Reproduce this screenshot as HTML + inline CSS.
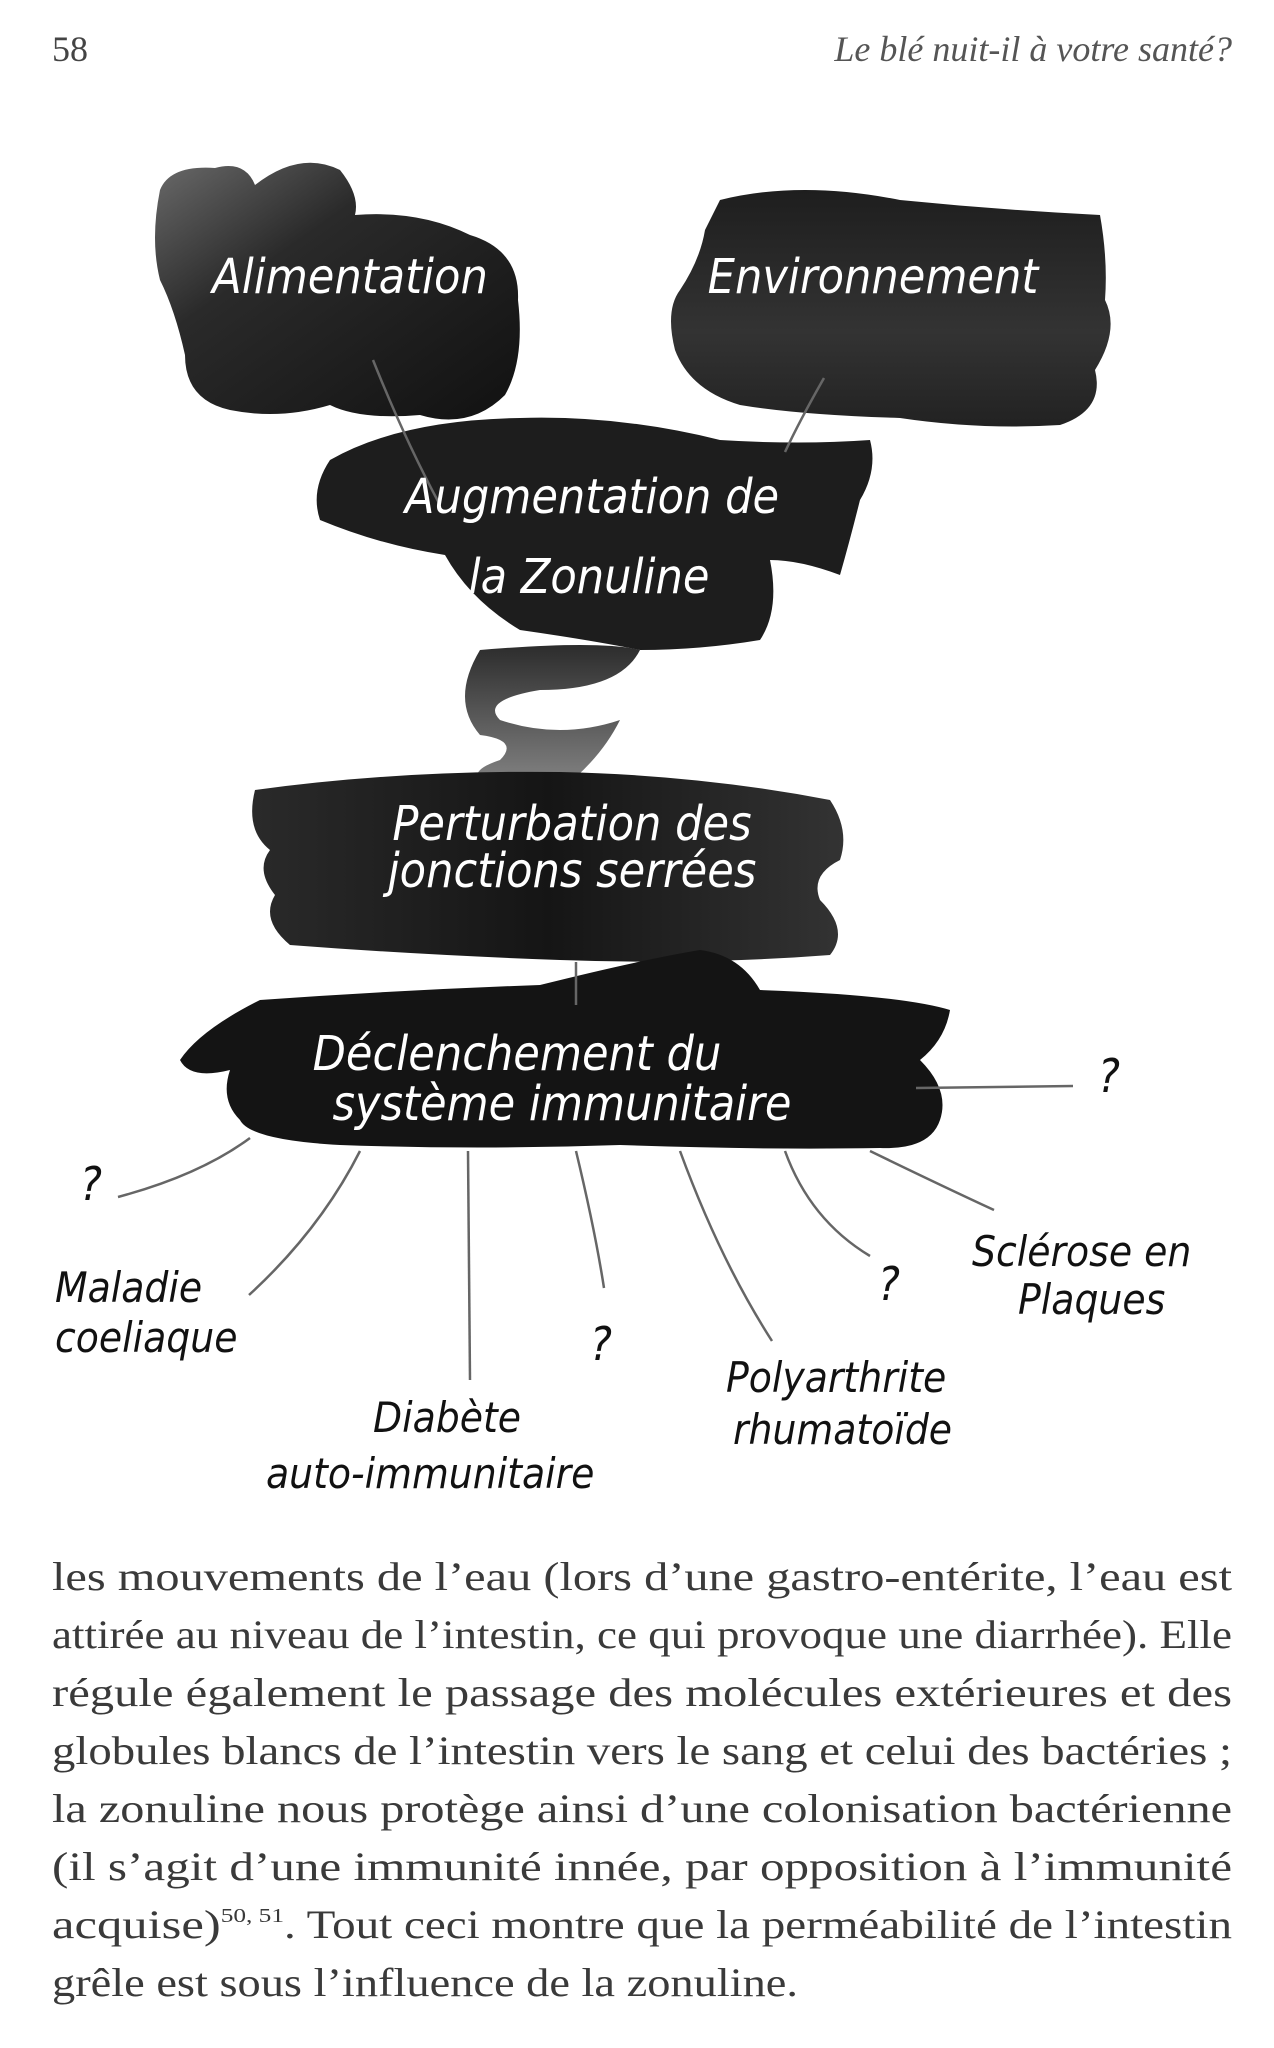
<!DOCTYPE html>
<html><head><meta charset="utf-8"><style>
html,body{margin:0;padding:0;background:#fff;}
body{width:1274px;height:2048px;position:relative;overflow:hidden;}
.hdr{position:absolute;top:28px;font-family:"Liberation Serif",serif;font-size:36px;color:#444;}
.hand{font-family:"DejaVu Sans Condensed","DejaVu Sans",sans-serif;font-weight:normal;}
svg{position:absolute;left:0;top:0;}
</style></head><body>
<div class="hdr" style="left:52px;">58</div>
<div class="hdr" style="right:42px;font-style:italic;color:#555;">Le blé nuit-il à votre santé?</div>

<svg width="1274" height="1540" viewBox="0 0 1274 1540">
<defs>
<linearGradient id="g1" x1="0" y1="0" x2="1" y2="1"><stop offset="0" stop-color="#6a6a6a"/><stop offset="0.35" stop-color="#2a2a2a"/><stop offset="1" stop-color="#111"/></linearGradient>
<linearGradient id="g2" x1="0" y1="0" x2="0" y2="1"><stop offset="0" stop-color="#1e1e1e"/><stop offset="0.6" stop-color="#333"/><stop offset="1" stop-color="#222"/></linearGradient>
<linearGradient id="g3" x1="0" y1="0" x2="1" y2="0"><stop offset="0" stop-color="#2a2a2a"/><stop offset="0.5" stop-color="#151515"/><stop offset="1" stop-color="#333"/></linearGradient>
<linearGradient id="g4" x1="0" y1="0" x2="0" y2="1"><stop offset="0" stop-color="#2c2c2c"/><stop offset="1" stop-color="#888"/></linearGradient>
</defs>
<path d="M160 190 Q170 165 215 168 Q245 160 255 185 Q300 150 340 170 Q360 195 355 215 Q420 210 470 235 Q520 250 518 300 Q525 360 505 395 Q470 430 420 415 Q360 420 330 405 Q280 420 230 410 Q185 400 185 355 Q175 310 160 280 Q150 240 160 190Z" fill="url(#g1)"/>
<path d="M720 200 Q800 180 900 200 Q1000 210 1100 215 Q1108 260 1105 300 Q1120 330 1095 370 Q1105 410 1060 425 Q980 430 900 418 Q800 415 740 405 Q690 390 675 350 Q665 310 680 290 Q700 260 705 230Z" fill="url(#g2)"/>
<path d="M330 460 Q400 420 520 418 Q620 415 720 440 Q800 445 870 440 Q878 470 860 500 Q850 540 840 575 Q800 560 770 560 Q780 610 760 640 Q700 650 640 650 Q590 640 520 630 Q470 600 445 555 Q380 545 320 520 Q310 490 330 460Z" fill="#1d1d1d"/>
<path d="M480 650 Q600 640 640 650 Q620 690 540 690 Q480 700 500 720 Q560 740 620 720 Q600 760 560 790 Q520 800 480 780 Q470 770 500 760 Q520 740 480 735 Q450 700 480 650Z" fill="url(#g4)"/>
<path d="M255 790 Q400 770 560 772 Q700 775 830 800 Q850 830 840 860 Q810 875 820 900 Q850 930 830 955 Q700 965 560 960 Q420 955 290 945 Q260 920 275 895 Q255 870 270 850 Q245 830 255 790Z" fill="url(#g3)"/>
<path d="M260 1000 Q400 990 540 985 Q640 960 700 950 Q740 955 760 990 Q900 995 950 1010 Q945 1040 920 1060 Q950 1090 940 1120 Q930 1150 880 1148 Q760 1150 620 1145 Q480 1150 340 1145 Q250 1140 240 1120 Q220 1100 230 1070 Q190 1080 180 1060 Q200 1030 260 1000Z" fill="#141414"/>
<g stroke="#666" stroke-width="2.5" fill="none">
<path d="M373 360 Q405 440 440 505"/>
<path d="M824 378 Q800 420 785 452"/>
<path d="M576 962 L576 1005"/>
<path d="M916 1088 L1073 1086"/>
<path d="M118 1197 Q200 1175 250 1138"/>
<path d="M249 1295 Q320 1230 360 1151"/>
<path d="M468 1151 L470 1380"/>
<path d="M576 1151 Q595 1230 604 1288"/>
<path d="M680 1151 Q720 1260 772 1341"/>
<path d="M785 1151 Q810 1220 870 1256"/>
<path d="M870 1151 Q940 1185 994 1210"/>
</g>
<g fill="#fff" class="hand" font-size="48" text-anchor="middle" font-style="italic">
<text x="350" y="293">Alimentation</text>
<text x="873" y="293">Environnement</text>
<text x="592" y="513">Augmentation de</text>
<text x="589" y="593">la Zonuline</text>
<text x="572" y="840">Perturbation des</text>
<text x="572" y="887">jonctions serrées</text>
<text x="517" y="1070">Déclenchement du</text>
<text x="562" y="1120">système immunitaire</text>
</g>
<g fill="#111" class="hand" font-size="46" font-style="italic">
<text x="1098" y="1092">?</text>
<text x="80" y="1200">?</text>
<text x="590" y="1360">?</text>
<text x="878" y="1300">?</text>
<text x="55" y="1302" font-size="42">Maladie</text>
<text x="55" y="1352" font-size="42">coeliaque</text>
<text x="373" y="1432" font-size="42">Diabète</text>
<text x="266" y="1488" font-size="42">auto-immunitaire</text>
<text x="726" y="1392" font-size="42">Polyarthrite</text>
<text x="733" y="1444" font-size="42">rhumatoïde</text>
<text x="972" y="1266" font-size="42">Sclérose en</text>
<text x="1018" y="1314" font-size="42">Plaques</text>
</g>
</svg>

<svg width="1274" height="2048" viewBox="0 0 1274 2048" style="top:0">
<g font-family="Liberation Serif, serif" font-size="40" fill="#3a3a3a">
<text x="52" y="1590" textLength="1180" lengthAdjust="spacingAndGlyphs">les mouvements de l’eau (lors d’une gastro-entérite, l’eau est</text>
<text x="52" y="1648" textLength="1180" lengthAdjust="spacingAndGlyphs">attirée au niveau de l’intestin, ce qui provoque une diarrhée). Elle</text>
<text x="52" y="1706" textLength="1180" lengthAdjust="spacingAndGlyphs">régule également le passage des molécules extérieures et des</text>
<text x="52" y="1764" textLength="1180" lengthAdjust="spacingAndGlyphs">globules blancs de l’intestin vers le sang et celui des bactéries ;</text>
<text x="52" y="1822" textLength="1180" lengthAdjust="spacingAndGlyphs">la zonuline nous protège ainsi d’une colonisation bactérienne</text>
<text x="52" y="1880" textLength="1180" lengthAdjust="spacingAndGlyphs">(il s’agit d’une immunité innée, par opposition à l’immunité</text>
<text x="52" y="1938" textLength="232" lengthAdjust="spacingAndGlyphs">acquise)<tspan font-size="20" dy="-16">50, 51</tspan></text>
<text x="284" y="1938" textLength="948" lengthAdjust="spacingAndGlyphs">. Tout ceci montre que la perméabilité de l’intestin</text>
<text x="52" y="1996" textLength="746" lengthAdjust="spacingAndGlyphs">grêle est sous l’influence de la zonuline.</text>
</g>
</svg>
</body></html>
